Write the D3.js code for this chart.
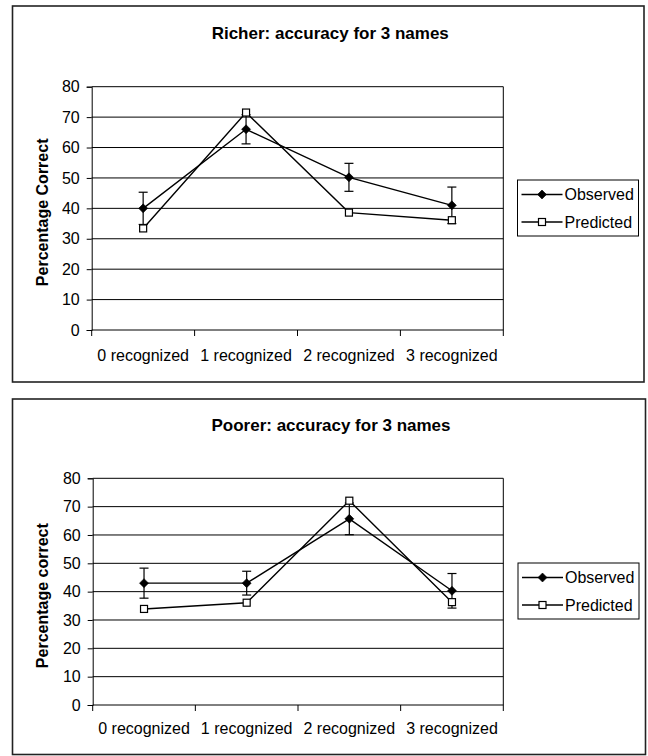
<!DOCTYPE html>
<html>
<head>
<meta charset="utf-8">
<script src="https://cdn.jsdelivr.net/npm/d3@7/dist/d3.min.js"></script>
<style>
  html, body { margin: 0; padding: 0; background: #fff; }
  svg { display: block; }
  text { font-family: "Liberation Sans", Arial, sans-serif; fill: #000; }
</style>
</head>
<body>
<svg id="chart" width="648" height="756"></svg>
<script>
// Category labels along the x axis
const categories = ["0 recognized", "1 recognized", "2 recognized", "3 recognized"];
// Y axis tick values
const yTicks = [0, 10, 20, 30, 40, 50, 60, 70, 80];
const seriesNames = ["Observed", "Predicted"];

// Richer condition
const richerObserved = [40.0, 66.0, 50.2, 41.0];
const richerObservedErr = [5.3, 4.8, 4.6, 6.0];
const richerPredicted = [33.4, 71.5, 38.6, 36.1];

// Poorer condition
const poorerObserved = [43.0, 43.0, 65.7, 40.3];
const poorerObservedErr = [5.3, 4.2, 5.6, 6.1];
const poorerPredicted = [33.9, 36.1, 72.1, 36.3];

const panels = [
  {
    title: "Richer: accuracy for 3 names",
    yTitle: "Percentage Correct",
    observed: richerObserved, err: richerObservedErr, predicted: richerPredicted,
    box: { x: 12.5, y: 6, w: 631.5, h: 376 },
    plot: { left: 91.7, right: 503.3, top: 86.7, bottom: 330 },
    titleY: 33, yTitleX: 42, catY: 355,
    legend: { x: 517.5, y: 180, w: 121, h: 56 }
  },
  {
    title: "Poorer: accuracy for 3 names",
    yTitle: "Percentage correct",
    observed: poorerObserved, err: poorerObservedErr, predicted: poorerPredicted,
    box: { x: 12.5, y: 399, w: 633, h: 355.5 },
    plot: { left: 92.7, right: 503.3, top: 478.3, bottom: 705 },
    titleY: 425, yTitleX: 42, catY: 728,
    legend: { x: 518, y: 563, w: 121, h: 56 }
  }
];

const svg = d3.select("#chart");

function diamond(g, cx, cy, r) {
  g.append("path")
    .attr("d", `M${cx},${cy - r}L${cx + r},${cy}L${cx},${cy + r}L${cx - r},${cy}Z`)
    .attr("fill", "#000").attr("stroke", "#000").attr("stroke-width", 0.6);
}
function square(g, cx, cy, s) {
  g.append("rect")
    .attr("x", cx - s / 2).attr("y", cy - s / 2)
    .attr("width", s).attr("height", s)
    .attr("fill", "#fff").attr("stroke", "#000").attr("stroke-width", 1.2);
}

panels.forEach(p => {
  const g = svg.append("g");

  // outer chart frame
  g.append("rect")
    .attr("x", p.box.x).attr("y", p.box.y)
    .attr("width", p.box.w).attr("height", p.box.h)
    .attr("fill", "#fff").attr("stroke", "#222").attr("stroke-width", 1.6);

  const x = d3.scaleBand().domain(categories).range([p.plot.left, p.plot.right]);
  const y = d3.scaleLinear().domain([0, 80]).range([p.plot.bottom, p.plot.top]);

  // title
  g.append("text")
    .attr("x", (p.box.x + p.box.x + p.box.w) / 2 + 2)
    .attr("y", p.titleY).attr("dy", "0.35em")
    .attr("text-anchor", "middle")
    .attr("font-size", 17).attr("font-weight", "bold")
    .text(p.title);

  // horizontal gridlines
  g.append("g").selectAll("line").data(yTicks.filter(t => t > 0)).join("line")
    .attr("x1", p.plot.left).attr("x2", p.plot.right)
    .attr("y1", d => y(d)).attr("y2", d => y(d))
    .attr("stroke", "#000").attr("stroke-width", 1);

  // right edge of plot area
  g.append("line")
    .attr("x1", p.plot.right).attr("x2", p.plot.right)
    .attr("y1", p.plot.top).attr("y2", p.plot.bottom)
    .attr("stroke", "#000").attr("stroke-width", 1);

  // y axis
  const yAxis = g.append("g")
    .attr("transform", `translate(${p.plot.left},0)`)
    .call(d3.axisLeft(y).tickValues(yTicks).tickSize(5).tickPadding(7));
  yAxis.select(".domain").attr("stroke", "#000");
  yAxis.selectAll(".tick line").attr("stroke", "#000");
  yAxis.selectAll(".tick text")
    .attr("font-size", 16)
    .attr("font-family", "\"Liberation Sans\", Arial, sans-serif")
    .attr("fill", "#000");

  // x axis: ticks at category boundaries
  const xAxis = g.append("g")
    .attr("transform", `translate(0,${p.plot.bottom})`);
  xAxis.append("line")
    .attr("x1", p.plot.left).attr("x2", p.plot.right)
    .attr("stroke", "#000").attr("stroke-width", 1);
  const bounds = categories.map(c => x(c)).concat([x(categories[categories.length - 1]) + x.bandwidth()]);
  xAxis.selectAll("line.tk").data(bounds).join("line")
    .attr("class", "tk")
    .attr("x1", d => d).attr("x2", d => d)
    .attr("y1", 0).attr("y2", 6)
    .attr("stroke", "#000").attr("stroke-width", 1);
  g.append("g").selectAll("text").data(categories).join("text")
    .attr("x", d => x(d) + x.bandwidth() / 2)
    .attr("y", p.catY).attr("dy", "0.35em")
    .attr("text-anchor", "middle")
    .attr("font-size", 16)
    .text(d => d);

  // y axis title
  const ymid = (p.plot.top + p.plot.bottom) / 2 + 4;
  g.append("text")
    .attr("transform", `translate(${p.yTitleX},${ymid}) rotate(-90)`)
    .attr("dy", "0.35em")
    .attr("text-anchor", "middle")
    .attr("font-size", 16).attr("font-weight", "bold")
    .text(p.yTitle);

  const cx = i => x(categories[i]) + x.bandwidth() / 2;
  const line = d3.line().x((d, i) => cx(i)).y(d => y(d));

  // predicted series
  g.append("path").datum(p.predicted)
    .attr("d", line).attr("fill", "none")
    .attr("stroke", "#000").attr("stroke-width", 1.4);
  // observed series
  g.append("path").datum(p.observed)
    .attr("d", line).attr("fill", "none")
    .attr("stroke", "#000").attr("stroke-width", 1.4);

  // error bars on observed
  const eb = g.append("g");
  p.observed.forEach((v, i) => {
    const e = p.err[i];
    eb.append("line").attr("x1", cx(i)).attr("x2", cx(i))
      .attr("y1", y(v + e)).attr("y2", y(v - e))
      .attr("stroke", "#000").attr("stroke-width", 1.2);
    [v + e, v - e].forEach(t => {
      eb.append("line").attr("x1", cx(i) - 4.5).attr("x2", cx(i) + 4.5)
        .attr("y1", y(t)).attr("y2", y(t))
        .attr("stroke", "#000").attr("stroke-width", 1.2);
    });
  });

  // markers
  p.predicted.forEach((v, i) => square(g, cx(i), y(v), 7));
  p.observed.forEach((v, i) => diamond(g, cx(i), y(v), 4.5));

  // legend
  const L = p.legend;
  const lg = g.append("g");
  lg.append("rect").attr("x", L.x).attr("y", L.y).attr("width", L.w).attr("height", L.h)
    .attr("fill", "#fff").attr("stroke", "#000").attr("stroke-width", 1);
  seriesNames.forEach((name, k) => {
    const ry = L.y + 14.5 + k * 27.5;
    lg.append("line").attr("x1", L.x + 4).attr("x2", L.x + 45)
      .attr("y1", ry).attr("y2", ry)
      .attr("stroke", "#000").attr("stroke-width", 1.4);
    if (k === 0) diamond(lg, L.x + 24.5, ry, 4.5);
    else square(lg, L.x + 24.5, ry, 7);
    lg.append("text").attr("x", L.x + 47).attr("y", ry).attr("dy", "0.35em")
      .attr("font-size", 16).text(name);
  });
});
</script>
</body>
</html>
